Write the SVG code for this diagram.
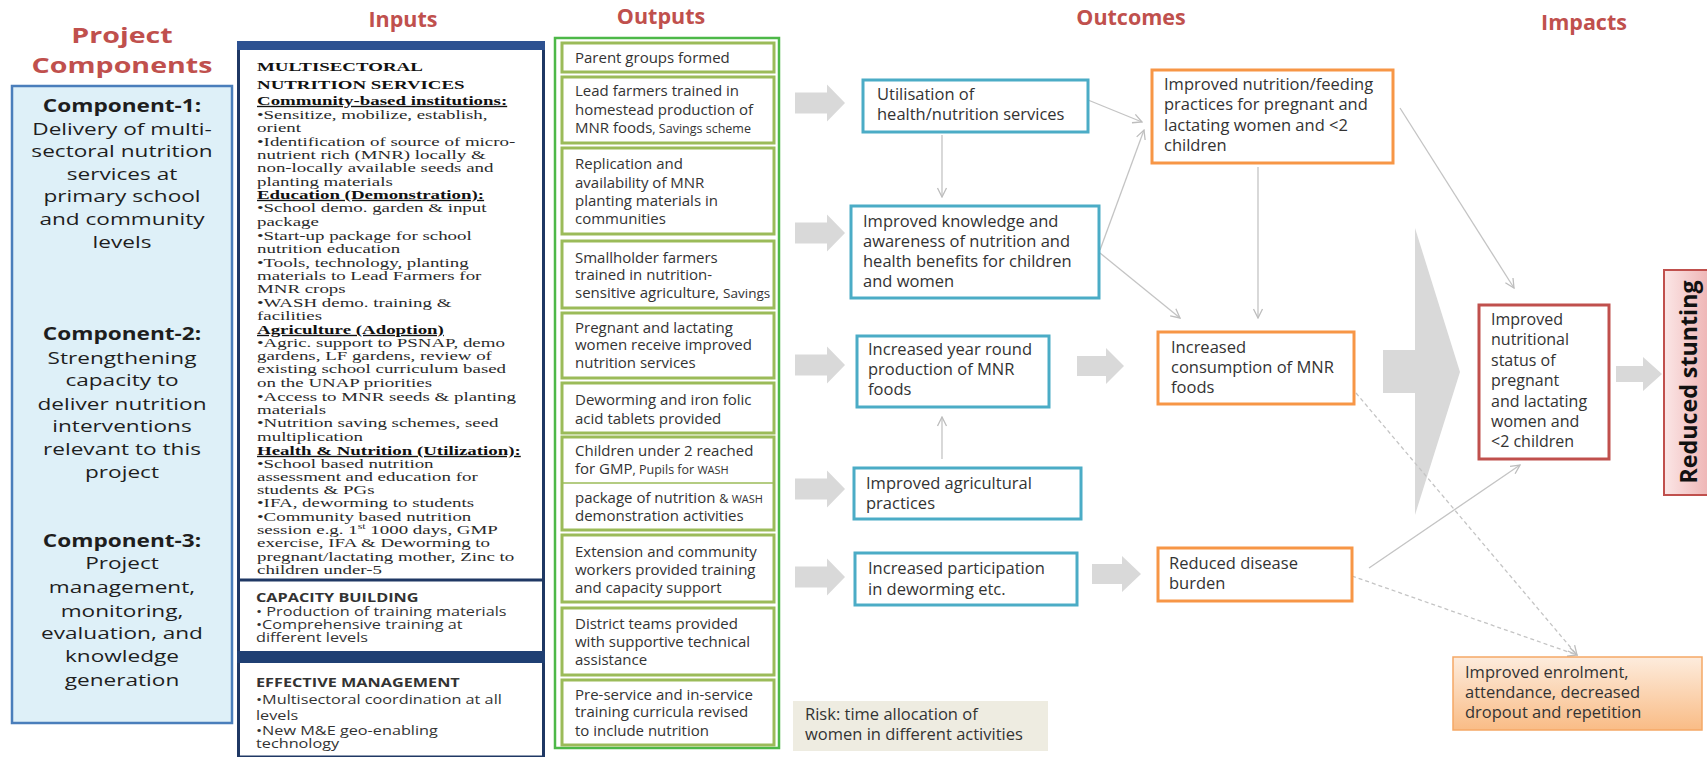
<svg xmlns="http://www.w3.org/2000/svg" width="1707" height="757" viewBox="0 0 1707 757">
<defs>
<style>
.t{font-family:"Open Sans","Liberation Sans",sans-serif;fill:#333}
.o{font-size:15px}
.c{font-size:16.5px}
.r{font-size:16px}
.sm{font-size:12.5px}
.xs{font-size:11px}
.lc{font-family:"Open Sans","Liberation Sans",sans-serif;font-size:17px;fill:#1e1e1e;text-anchor:middle}
.b{font-weight:bold}
.serif{font-family:"Liberation Serif","Times New Roman",serif;font-size:13.5px;fill:#2a2a2a}
.hd{font-weight:bold;fill:#111}
.u{text-decoration:underline}
.cb{font-family:"Open Sans","Liberation Sans",sans-serif;font-size:12.5px;fill:#333}
.title{font-family:"Open Sans","Liberation Sans",sans-serif;font-weight:bold;font-size:21.5px;fill:#C0504D;text-anchor:middle}
.gbox{fill:#fff;stroke:#9BBB59;stroke-width:3}
.bbox{fill:#fff;stroke:#4BACC6;stroke-width:3}
.obox{fill:#fff;stroke:#F79646;stroke-width:3}
.blk{fill:#D9D9D9}
.ln{stroke:#C4C4C4;stroke-width:1.3;fill:none;marker-end:url(#ah)}
.dash{stroke-dasharray:4 3}
</style>
<marker id="ah" markerUnits="userSpaceOnUse" markerWidth="12" markerHeight="12" viewBox="0 0 12 12" refX="11" refY="6" orient="auto"><path d="M2,1.5 L11,6 L2,10.5" fill="none" stroke="#BDBDBD" stroke-width="1.3"/></marker>
<path id="blkarr" d="M0,-10.5 H32 V-18.5 L50,0 L32,18.5 V10.5 H0 Z"/>
<linearGradient id="gPink" x1="0" y1="0" x2="1" y2="0"><stop offset="0" stop-color="#FBE6E6"/><stop offset="1" stop-color="#EDB0B0"/></linearGradient>
<linearGradient id="gPeach" x1="0" y1="0" x2="0" y2="1"><stop offset="0" stop-color="#FDECDD"/><stop offset="1" stop-color="#F9BC86"/></linearGradient>
</defs>
<rect width="1707" height="757" fill="#fff"/>

<!-- Titles -->
<g id="titles">
<g transform="translate(122,0) scale(1.33,1)">
<text class="title" x="0" y="43" font-size="20">Project</text>
<text class="title" x="0" y="73" font-size="20">Components</text>
</g>
<text class="title" x="403" y="27">Inputs</text>
<text class="title" x="661" y="24">Outputs</text>
<text class="title" x="1131" y="25">Outcomes</text>
<text class="title" x="1584" y="30">Impacts</text>
</g>

<!-- Project components -->
<g id="components">
<rect x="12" y="86" width="220" height="637" fill="#DEF0F8" stroke="#4A7EBB" stroke-width="2.5"/>
<g transform="translate(122,0) scale(1.33,1)">
<text class="lc b" x="0" y="112">Component-1:</text>
<text class="lc" x="0" y="135">Delivery of multi-</text>
<text class="lc" x="0" y="157">sectoral nutrition</text>
<text class="lc" x="0" y="180">services at</text>
<text class="lc" x="0" y="202">primary school</text>
<text class="lc" x="0" y="225">and community</text>
<text class="lc" x="0" y="248">levels</text>
<text class="lc b" x="0" y="340">Component-2:</text>
<text class="lc" x="0" y="364">Strengthening</text>
<text class="lc" x="0" y="386">capacity to</text>
<text class="lc" x="0" y="410">deliver nutrition</text>
<text class="lc" x="0" y="432">interventions</text>
<text class="lc" x="0" y="455">relevant to this</text>
<text class="lc" x="0" y="478">project</text>
<text class="lc b" x="0" y="547">Component-3:</text>
<text class="lc" x="0" y="569">Project</text>
<text class="lc" x="0" y="593">management,</text>
<text class="lc" x="0" y="617">monitoring,</text>
<text class="lc" x="0" y="639">evaluation, and</text>
<text class="lc" x="0" y="662">knowledge</text>
<text class="lc" x="0" y="686">generation</text>
</g>
</g>

<!-- Inputs -->
<g id="inputs">
<rect x="238.5" y="44" width="305" height="713" fill="#fff" stroke="#1F3864" stroke-width="3"/>
<rect x="237" y="41" width="308" height="9" fill="#2D5191"/>
<line x1="238" y1="580" x2="544" y2="580" stroke="#1F3864" stroke-width="3"/>
<rect x="237" y="651" width="308" height="12" fill="#1F3F73"/>
<g transform="translate(257,0) scale(1.4,1)" class="serif">
<text class="serif hd" x="0" y="71" font-size="15">MULTISECTORAL</text>
<text class="serif hd" x="0" y="89" font-size="15">NUTRITION SERVICES</text>
<text class="serif hd u" x="0" y="105">Community-based institutions:</text>
<text class="serif" x="0" y="119">•Sensitize, mobilize, establish,</text>
<text class="serif" x="0" y="132">orient</text>
<text class="serif" x="0" y="146">•Identification of source of micro-</text>
<text class="serif" x="0" y="159">nutrient rich (MNR) locally &amp;</text>
<text class="serif" x="0" y="172">non-locally available seeds and</text>
<text class="serif" x="0" y="186">planting materials</text>
<text class="serif hd u" x="0" y="199">Education (Demonstration):</text>
<text class="serif" x="0" y="212">•School demo. garden &amp; input</text>
<text class="serif" x="0" y="226">package</text>
<text class="serif" x="0" y="240">•Start-up package for school</text>
<text class="serif" x="0" y="253">nutrition education</text>
<text class="serif" x="0" y="267">•Tools, technology, planting</text>
<text class="serif" x="0" y="280">materials to Lead Farmers for</text>
<text class="serif" x="0" y="293">MNR crops</text>
<text class="serif" x="0" y="307">•WASH demo. training &amp;</text>
<text class="serif" x="0" y="320">facilities</text>
<text class="serif hd u" x="0" y="334">Agriculture (Adoption)</text>
<text class="serif" x="0" y="347">•Agric. support to PSNAP, demo</text>
<text class="serif" x="0" y="360">gardens, LF gardens, review of</text>
<text class="serif" x="0" y="373">existing school curriculum based</text>
<text class="serif" x="0" y="387">on the UNAP priorities</text>
<text class="serif" x="0" y="401">•Access to MNR seeds &amp; planting</text>
<text class="serif" x="0" y="414">materials</text>
<text class="serif" x="0" y="427">•Nutrition saving schemes, seed</text>
<text class="serif" x="0" y="441">multiplication</text>
<text class="serif hd u" x="0" y="455">Health &amp; Nutrition (Utilization):</text>
<text class="serif" x="0" y="468">•School based nutrition</text>
<text class="serif" x="0" y="481">assessment and education for</text>
<text class="serif" x="0" y="494">students &amp; PGs</text>
<text class="serif" x="0" y="507">•IFA, deworming to students</text>
<text class="serif" x="0" y="521">•Community based nutrition</text>
<text class="serif" x="0" y="534">session e.g. 1<tspan font-size="8.5" dy="-5">st</tspan><tspan dy="5"> 1000 days, GMP</tspan></text>
<text class="serif" x="0" y="547">exercise, IFA &amp; Deworming to</text>
<text class="serif" x="0" y="561">pregnant/lactating mother, Zinc to</text>
<text class="serif" x="0" y="574">children under-5</text>
</g>
<g transform="translate(256,0) scale(1.3,1)">
<text class="cb b" x="0" y="602" font-size="13.5" fill="#111">CAPACITY BUILDING</text>
<text class="cb" x="0" y="616">• Production of training materials</text>
<text class="cb" x="0" y="629">•Comprehensive training at</text>
<text class="cb" x="0" y="642">different levels</text>
<text class="cb b" x="0" y="687" font-size="14" fill="#111">EFFECTIVE MANAGEMENT</text>
<text class="cb" x="0" y="704">•Multisectoral coordination at all</text>
<text class="cb" x="0" y="720">levels</text>
<text class="cb" x="0" y="735">•New M&amp;E geo-enabling</text>
<text class="cb" x="0" y="748">technology</text>
</g>
</g>

<!-- Outputs -->
<g id="outputs">
<rect x="555" y="38" width="224" height="710" fill="#fff" stroke="#4DB848" stroke-width="2.5"/>
<g id="out1"><rect class="gbox" x="562" y="43" width="212" height="29"/>
<text class="t o" x="575" y="63">Parent groups formed</text></g>
<g id="out2"><rect class="gbox" x="562" y="77" width="212" height="66"/>
<text class="t o" x="575" y="96">Lead farmers trained in</text>
<text class="t o" x="575" y="115">homestead production of</text>
<text class="t o" x="575" y="133">MNR foods<tspan class="sm">, Savings scheme</tspan></text></g>
<g id="out3"><rect class="gbox" x="562" y="148" width="212" height="86"/>
<text class="t o" x="575" y="169">Replication and</text>
<text class="t o" x="575" y="188">availability of MNR</text>
<text class="t o" x="575" y="206">planting materials in</text>
<text class="t o" x="575" y="224">communities</text></g>
<g id="out4"><rect class="gbox" x="562" y="241" width="212" height="67"/>
<text class="t o" x="575" y="263">Smallholder farmers</text>
<text class="t o" x="575" y="280">trained in nutrition-</text>
<text class="t o" x="575" y="298">sensitive agriculture, <tspan font-size="13.5">Savings</tspan></text></g>
<g id="out5"><rect class="gbox" x="562" y="313" width="212" height="65"/>
<text class="t o" x="575" y="333">Pregnant and lactating</text>
<text class="t o" x="575" y="350">women receive improved</text>
<text class="t o" x="575" y="368">nutrition services</text></g>
<g id="out6"><rect class="gbox" x="562" y="383" width="212" height="50"/>
<text class="t o" x="575" y="405">Deworming  and iron folic</text>
<text class="t o" x="575" y="424">acid tablets provided</text></g>
<g id="out7"><rect class="gbox" x="562" y="437" width="212" height="93"/>
<line x1="563" y1="483" x2="773" y2="483" stroke="#9BBB59" stroke-width="1.5"/>
<text class="t o" x="575" y="456">Children under 2 reached</text>
<text class="t o" x="575" y="474">for GMP<tspan class="sm">, Pupils for </tspan><tspan class="xs">WASH</tspan></text>
<text class="t o" x="575" y="503">package of nutrition <tspan class="sm">&amp; </tspan><tspan class="xs">WASH</tspan></text>
<text class="t o" x="575" y="521">demonstration activities</text></g>
<g id="out9"><rect class="gbox" x="562" y="535" width="212" height="67"/>
<text class="t o" x="575" y="557">Extension and community</text>
<text class="t o" x="575" y="575">workers provided training</text>
<text class="t o" x="575" y="593">and capacity support</text></g>
<g id="out10"><rect class="gbox" x="562" y="608" width="212" height="67"/>
<text class="t o" x="575" y="629">District teams provided</text>
<text class="t o" x="575" y="647">with supportive technical</text>
<text class="t o" x="575" y="665">assistance</text></g>
<g id="out11"><rect class="gbox" x="562" y="680" width="212" height="65"/>
<text class="t o" x="575" y="700">Pre-service and in-service</text>
<text class="t o" x="575" y="717">training curricula revised</text>
<text class="t o" x="575" y="736">to include nutrition</text></g>
</g>

<!-- Connectors -->
<g id="connectors">
<use href="#blkarr" class="blk" x="795" y="103"/>
<use href="#blkarr" class="blk" x="795" y="233"/>
<use href="#blkarr" class="blk" x="795" y="365"/>
<use href="#blkarr" class="blk" x="795" y="489"/>
<use href="#blkarr" class="blk" x="795" y="577"/>
<path class="blk" d="M1077,356 H1106 V348 L1124,366 L1106,384 V376 H1077 Z"/>
<path class="blk" d="M1092,564 H1122 V556 L1141,574 L1122,592 V584 H1092 Z"/>
<path class="blk" d="M1383,350 H1415 V228 L1460,372 L1415,515 V393 H1383 Z"/>
<path class="blk" d="M1616,366 H1643 V357 L1662,374 L1643,391 V382 H1616 Z"/>
<line class="ln" x1="942" y1="135" x2="942" y2="197"/>
<line class="ln" x1="942" y1="459" x2="942" y2="417"/>
<line class="ln" x1="1088" y1="100" x2="1142" y2="122"/>
<line class="ln" x1="1100" y1="250" x2="1144" y2="130"/>
<line class="ln" x1="1100" y1="253" x2="1180" y2="318"/>
<line class="ln" x1="1258" y1="167" x2="1258" y2="318"/>
<line class="ln" x1="1400" y1="108" x2="1514" y2="288"/>
<line class="ln" x1="1369" y1="568" x2="1520" y2="465"/>
<line class="ln dash" x1="1356" y1="393" x2="1577" y2="655"/>
<line class="ln dash" x1="1352" y1="576" x2="1577" y2="655"/>
</g>

<!-- Outcomes -->
<g id="oc-utilisation"><rect class="bbox" x="863" y="80" width="225" height="52"/>
<text class="t c" x="877" y="100">Utilisation of</text>
<text class="t c" x="877" y="120">health/nutrition services</text></g>
<g id="oc-knowledge"><rect class="bbox" x="851" y="206" width="248" height="92"/>
<text class="t c" x="863" y="227">Improved knowledge and</text>
<text class="t c" x="863" y="247">awareness of nutrition and</text>
<text class="t c" x="863" y="267">health benefits for children</text>
<text class="t c" x="863" y="287">and women</text></g>
<g id="oc-production"><rect class="bbox" x="857" y="336" width="192" height="71" stroke="#1FB0EC"/>
<text class="t c" x="868" y="355">Increased year round</text>
<text class="t c" x="868" y="375">production of MNR</text>
<text class="t c" x="868" y="395">foods</text></g>
<g id="oc-agri"><rect class="bbox" x="854" y="468" width="227" height="51"/>
<text class="t c" x="866" y="489">Improved agricultural</text>
<text class="t c" x="866" y="509">practices</text></g>
<g id="oc-deworm"><rect class="bbox" x="855" y="553" width="222" height="52"/>
<text class="t c" x="868" y="574">Increased participation</text>
<text class="t c" x="868" y="595">in deworming etc.</text></g>
<g id="risk"><rect x="793" y="701" width="255" height="50" fill="#EEECE1"/>
<text class="t c" x="805" y="720">Risk: time allocation of</text>
<text class="t c" x="805" y="740">women in different activities</text></g>
<g id="oc-feeding"><rect class="obox" x="1152" y="70" width="241" height="93"/>
<text class="t c" x="1164" y="90">Improved nutrition/feeding</text>
<text class="t c" x="1164" y="110">practices for pregnant and</text>
<text class="t c" x="1164" y="131">lactating women and &lt;2</text>
<text class="t c" x="1164" y="151">children</text></g>
<g id="oc-consumption"><rect class="obox" x="1158" y="332" width="196" height="72"/>
<text class="t c" x="1171" y="353">Increased</text>
<text class="t c" x="1171" y="373">consumption of MNR</text>
<text class="t c" x="1171" y="393">foods</text></g>
<g id="oc-disease"><rect class="obox" x="1158" y="548" width="194" height="53"/>
<text class="t c" x="1169" y="569">Reduced disease</text>
<text class="t c" x="1169" y="589">burden</text></g>

<!-- Impacts -->
<g id="im-status"><rect x="1479" y="305" width="130" height="154" fill="#fff" stroke="#C0504D" stroke-width="3"/>
<text class="t r" x="1491" y="325">Improved</text>
<text class="t r" x="1491" y="345">nutritional</text>
<text class="t r" x="1491" y="366">status of</text>
<text class="t r" x="1491" y="386">pregnant</text>
<text class="t r" x="1491" y="407">and lactating</text>
<text class="t r" x="1491" y="427">women and</text>
<text class="t r" x="1491" y="447">&lt;2 children</text></g>
<g id="im-stunting"><rect x="1664" y="270" width="50" height="225" fill="url(#gPink)" stroke="#C0504D" stroke-width="2"/>
<text transform="translate(1697,382) rotate(-90)" x="0" y="0" text-anchor="middle" font-family="Open Sans, Liberation Sans, sans-serif" font-weight="bold" font-size="23" fill="#111" textLength="203" lengthAdjust="spacingAndGlyphs">Reduced stunting</text></g>
<g id="im-enrolment"><rect x="1453" y="657" width="249" height="73" fill="url(#gPeach)" stroke="#F5A866" stroke-width="1.5"/>
<text class="t c" x="1465" y="678">Improved enrolment,</text>
<text class="t c" x="1465" y="698">attendance, decreased</text>
<text class="t c" x="1465" y="718">dropout and repetition</text></g>
</svg>
